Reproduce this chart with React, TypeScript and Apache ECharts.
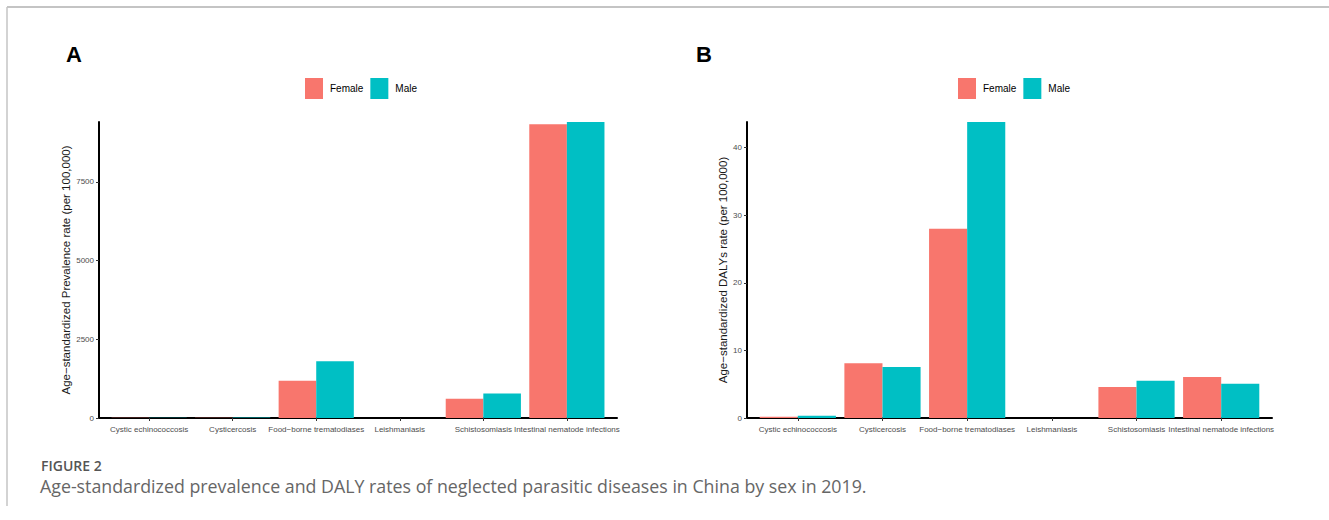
import React, { useEffect, useRef } from "react";
import * as echarts from "echarts";

const categories = [
  "Cystic echinococcosis",
  "Cysticercosis",
  "Food−borne trematodiases",
  "Leishmaniasis",
  "Schistosomiasis",
  "Intestinal nematode infections",
];
const sexes = ["Female", "Male"];
const sexColors = ["#F8766D", "#00BFC4"];

const prevalenceFemale = [8, 10, 1182, 0.5, 611, 9325];
const prevalenceMale = [6, 12, 1806, 0.5, 780, 9400];
const prevalenceTicks = [0, 2500, 5000, 7500];
const prevalenceMax = 9400;

const dalyFemale = [0.2, 8.12, 28.0, 0.01, 4.58, 6.05];
const dalyMale = [0.34, 7.53, 43.8, 0.01, 5.5, 5.06];
const dalyTicks = [0, 10, 20, 30, 40];
const dalyMax = 43.8;

const FONT = "'Liberation Sans', Arial, sans-serif";

function frameGrid(left: number, width: number) {
  return { left, top: 122, width, height: 296, containLabel: false };
}

export default function App() {
  const ref = useRef<HTMLDivElement>(null);
  useEffect(() => {
    if (!ref.current) return;
    const chart = echarts.init(ref.current, undefined, { renderer: "svg" });

    const aLeft = 99, aWidth = 518, aUnit = aWidth / 6.2;
    const bLeft = 747, bWidth = 525, bUnit = bWidth / 6.2;

    const frameX = (gridIndex: number) => ({
      gridIndex,
      type: "value",
      min: 0,
      max: 1,
      axisLine: { show: true, lineStyle: { color: "#000", width: 2 } },
      axisTick: { show: false },
      axisLabel: { show: false },
      splitLine: { show: false },
    });
    const catX = (gridIndex: number) => ({
      gridIndex,
      type: "category",
      data: categories,
      axisLine: { show: false },
      axisTick: { show: true, alignWithLabel: true, length: 3, lineStyle: { color: "#333", width: 1 } },
      axisLabel: { interval: 0, fontSize: 8, color: "#4d4d4d", margin: 7, fontFamily: FONT },
      splitLine: { show: false },
    });
    const frameY = (gridIndex: number, max: number, ticks: number[], name: string, nameGap: number) => ({
      gridIndex,
      type: "value",
      min: 0,
      max,
      axisLine: { show: true, lineStyle: { color: "#000", width: 2 } },
      axisTick: { show: true, length: 3, customValues: ticks, lineStyle: { color: "#333", width: 1 } },
      axisLabel: {
        show: true,
        customValues: ticks,
        fontSize: 8,
        color: "#4d4d4d",
        margin: 5,
        fontFamily: FONT,
        formatter: (v: number) => String(v),
      },
      splitLine: { show: false },
      name,
      nameLocation: "middle",
      nameGap,
      nameTextStyle: { fontSize: 11.5, color: "#1a1a1a", fontFamily: FONT },
    });
    const hiddenY = (gridIndex: number, max: number) => ({
      gridIndex,
      type: "value",
      min: 0,
      max,
      show: false,
      splitLine: { show: false },
    });
    const barSeries = (name: string, color: string, data: number[], axisIndex: number) => ({
      name,
      type: "bar",
      xAxisIndex: axisIndex,
      yAxisIndex: axisIndex,
      data,
      barGap: "0%",
      barCategoryGap: "10%",
      itemStyle: { color },
      emphasis: { disabled: true },
    });
    const legend = (left: number) => ({
      left,
      top: 78,
      padding: 0,
      icon: "rect",
      itemWidth: 18,
      itemHeight: 21,
      itemGap: 7,
      data: sexes,
      selectedMode: false,
      textStyle: { fontSize: 10, color: "#000", fontFamily: FONT, padding: [0, 0, 0, 2] },
    });

    chart.setOption({
      animation: false,
      textStyle: { fontFamily: FONT },
      grid: [
        frameGrid(aLeft, aWidth),
        frameGrid(aLeft + 0.1 * aUnit, 6 * aUnit),
        frameGrid(bLeft, bWidth),
        frameGrid(bLeft + 0.1 * bUnit, 6 * bUnit),
      ],
      xAxis: [frameX(0), catX(1), frameX(2), catX(3)],
      yAxis: [
        frameY(0, prevalenceMax, prevalenceTicks, "Age−standardized Prevalence rate (per 100,000)", 18),
        hiddenY(1, prevalenceMax),
        frameY(2, dalyMax, dalyTicks, "Age−standardized DALYs rate (per 100,000)", 15),
        hiddenY(3, dalyMax),
      ],
      legend: [legend(305), legend(958)],
      series: [
        barSeries(sexes[0], sexColors[0], prevalenceFemale, 1),
        barSeries(sexes[1], sexColors[1], prevalenceMale, 1),
        barSeries(sexes[0], sexColors[0], dalyFemale, 3),
        barSeries(sexes[1], sexColors[1], dalyMale, 3),
      ],
      graphic: [
        { type: "line", shape: { x1: 7, y1: 7, x2: 1329, y2: 7 }, style: { stroke: "#c4c4c4", lineWidth: 2 }, silent: true },
        { type: "line", shape: { x1: 7, y1: 7, x2: 7, y2: 506 }, style: { stroke: "#c4c4c4", lineWidth: 1.5 }, silent: true },
        { type: "text", left: 66, top: 43, style: { text: "A", font: `bold 22px ${FONT}`, fill: "#000" }, silent: true },
        { type: "text", left: 696, top: 43, style: { text: "B", font: `bold 22px ${FONT}`, fill: "#000" }, silent: true },
        { type: "text", left: 41, top: 458, style: { text: "FIGURE 2", font: `600 14px 'Open Sans', sans-serif`, fill: "#555" }, silent: true },
        {
          type: "text",
          left: 40,
          top: 477,
          style: {
            text: "Age-standardized prevalence and DALY rates of neglected parasitic diseases in China by sex in 2019.",
            font: `17.8px 'Open Sans', sans-serif`,
            fill: "#666",
          },
          silent: true,
        },
      ],
    });
    return () => chart.dispose();
  }, []);
  return (
    <div
      ref={ref}
      style={{ position: "fixed", left: 0, top: 0, width: 1329, height: 520, background: "#fff" }}
    />
  );
}
